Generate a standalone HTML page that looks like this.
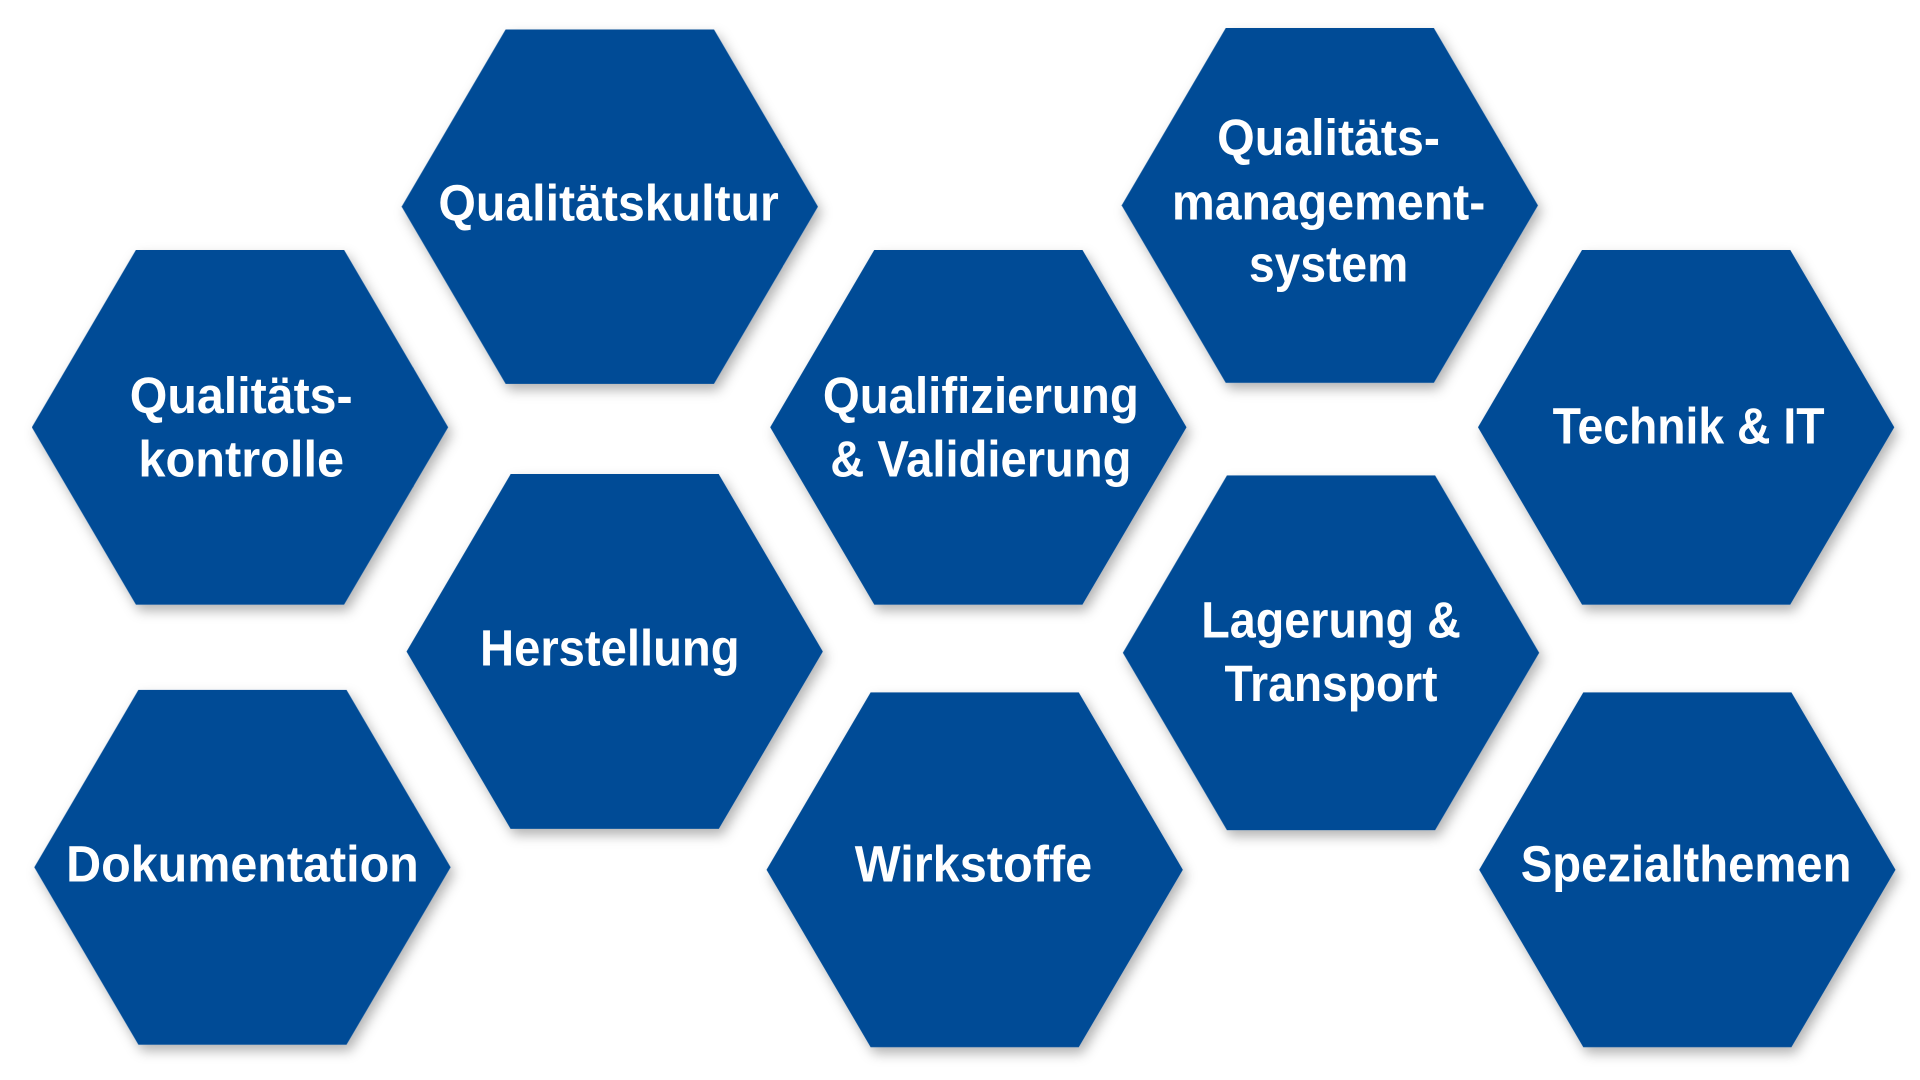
<!DOCTYPE html>
<html><head><meta charset="utf-8"><style>
html,body{margin:0;padding:0;background:#fff;width:1920px;height:1080px;overflow:hidden}
svg{display:block}
text{font-family:"Liberation Sans",sans-serif;font-weight:bold;fill:#fff;font-size:42px;text-anchor:middle}
</style></head><body>
<svg width="1920" height="1080" viewBox="0 0 1568 886" preserveAspectRatio="none">
<defs>
<filter id="sh" x="-20%" y="-20%" width="140%" height="140%">
<feDropShadow dx="3" dy="5" stdDeviation="5" flood-color="#000" flood-opacity="0.3"/>
</filter>
<polygon id="hx" points="0,145.5 85,0 255,0 340,145.5 255,291 85,291"/>
</defs>
<g fill="#034c96" filter="url(#sh)">
<use href="#hx" x="328" y="24"/>
<use href="#hx" x="26" y="205"/>
<use href="#hx" x="28" y="566"/>
<use href="#hx" x="332" y="389"/>
<use href="#hx" x="629" y="205"/>
<use href="#hx" x="626" y="568"/>
<use href="#hx" x="916" y="23"/>
<use href="#hx" x="917" y="390"/>
<use href="#hx" x="1207" y="205"/>
<use href="#hx" x="1208" y="568"/>
</g>
<text x="497" y="181" textLength="278" lengthAdjust="spacingAndGlyphs">Qualitätskultur</text>
<text x="197" y="339" textLength="182" lengthAdjust="spacingAndGlyphs">Qualitäts-</text>
<text x="197" y="391" textLength="168" lengthAdjust="spacingAndGlyphs">kontrolle</text>
<text x="198" y="723" textLength="288" lengthAdjust="spacingAndGlyphs">Dokumentation</text>
<text x="498" y="546" textLength="212" lengthAdjust="spacingAndGlyphs">Herstellung</text>
<text x="801" y="339" textLength="258" lengthAdjust="spacingAndGlyphs">Qualifizierung</text>
<text x="801" y="391" textLength="246" lengthAdjust="spacingAndGlyphs">&amp; Validierung</text>
<text x="795" y="723" textLength="194" lengthAdjust="spacingAndGlyphs">Wirkstoffe</text>
<text x="1085" y="127" textLength="182" lengthAdjust="spacingAndGlyphs">Qualitäts-</text>
<text x="1085" y="180" textLength="256" lengthAdjust="spacingAndGlyphs">management-</text>
<text x="1085" y="231" textLength="130" lengthAdjust="spacingAndGlyphs">system</text>
<text x="1087" y="523" textLength="212" lengthAdjust="spacingAndGlyphs">Lagerung &amp;</text>
<text x="1087" y="575" textLength="174" lengthAdjust="spacingAndGlyphs">Transport</text>
<text x="1379" y="364" textLength="222" lengthAdjust="spacingAndGlyphs">Technik &amp; IT</text>
<text x="1377" y="723" textLength="270" lengthAdjust="spacingAndGlyphs">Spezialthemen</text>
</svg>
</body></html>
